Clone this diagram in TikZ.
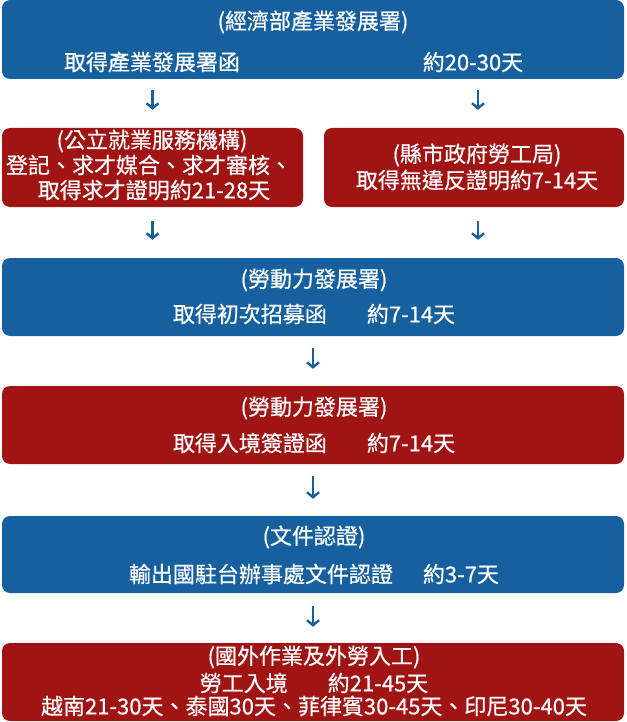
\documentclass[tikz,border=0pt]{standalone}
\usepackage{fontspec}
\setmainfont{Noto Sans CJK TC}[FakeBold=0.6]
\usetikzlibrary{arrows.meta}
\definecolor{bxblue}{HTML}{1660A0}
\definecolor{bxred}{HTML}{A01414}
\tikzset{
  box/.style={rectangle, rounded corners=8pt, inner sep=0pt, draw=none},
  bluebox/.style={box, fill=bxblue},
  redbox/.style={box, fill=bxred},
  txt/.style={text=white, font=\fontsize{22}{26}\selectfont, inner sep=0pt, anchor=center},
  arr/.style={draw=bxblue, line width=2.4pt, -{Straight Barb[length=5pt,width=12pt,line width=2.4pt]}}
}
\begin{document}
\begin{tikzpicture}[x=1pt,y=-1pt]
\useasboundingbox (0,0) rectangle (626,722);
% boxes
\node[bluebox, minimum width=622pt, minimum height=79pt] (b1) at (313,39.5) {};
\node[redbox, minimum width=301pt, minimum height=79pt] (b2a) at (152.5,167.5) {};
\node[redbox, minimum width=300pt, minimum height=79pt] (b2b) at (474,167.5) {};
\node[bluebox, minimum width=622pt, minimum height=78pt] (b3) at (313,297) {};
\node[redbox, minimum width=622pt, minimum height=78pt] (b4) at (313,425) {};
\node[bluebox, minimum width=622pt, minimum height=77pt] (b5) at (313,554.5) {};
\node[redbox, minimum width=622pt, minimum height=78pt] (b6) at (313,682) {};
% texts
\node[txt] (t1a) at (313,22) {(經濟部產業發展署)};
\node[txt] (t1b) at (152,62) {取得產業發展署函};
\node[txt] (t1c) at (473,62) {約20-30天};
\node[txt] (t2a1) at (152,141) {(公立就業服務機構)};
\node[txt] (t2a2) at (149,165) {登記、求才媒合、求才審核、};
\node[txt] (t2a3) at (154,190) {取得求才證明約21-28天};
\node[txt] (t2b1) at (477,155) {(縣市政府勞工局)};
\node[txt] (t2b2) at (477,180) {取得無違反證明約7-14天};
\node[txt] (t3a) at (314,280) {(勞動力發展署)};
\node[txt] (t3b) at (314,314) {取得初次招募函\hspace{40pt}約7-14天};
\node[txt] (t4a) at (314,408) {(勞動力發展署)};
\node[txt] (t4b) at (314,443) {取得入境簽證函\hspace{40pt}約7-14天};
\node[txt] (t5a) at (314,537) {(文件認證)};
\node[txt] (t5b) at (314,574) {輸出國駐台辦事處文件認證\hspace{30pt}約3-7天};
\node[txt] (t6a) at (314,657) {(國外作業及外勞入工)};
\node[txt] (t6b) at (314,683) {勞工入境\hspace{40pt}約21-45天};
\node[txt] (t6c) at (314,706) {越南21-30天、泰國30天、菲律賓30-45天、印尼30-40天};
% arrows
\draw[arr, shorten <=11pt, shorten >=18pt] (b2a.north |- b1.south) -- (b2a.north);
\draw[arr, shorten <=11pt, shorten >=18pt] ([xshift=4pt]b2b.north |- b1.south) -- ([xshift=4pt]b2b.north);
\draw[arr, shorten <=14pt, shorten >=18pt] (b2a.south) -- (b2a.south |- b3.north);
\draw[arr, shorten <=14pt, shorten >=18pt] ([xshift=4pt]b2b.south) -- ([xshift=4pt]b2b.south |- b3.north);
\draw[arr, shorten <=12pt, shorten >=17pt] (b3.south) -- (b4.north);
\draw[arr, shorten <=12pt, shorten >=17pt] (b4.south) -- (b5.north);
\draw[arr, shorten <=13pt, shorten >=16pt] (b5.south) -- (b6.north);
\end{tikzpicture}
\end{document}
